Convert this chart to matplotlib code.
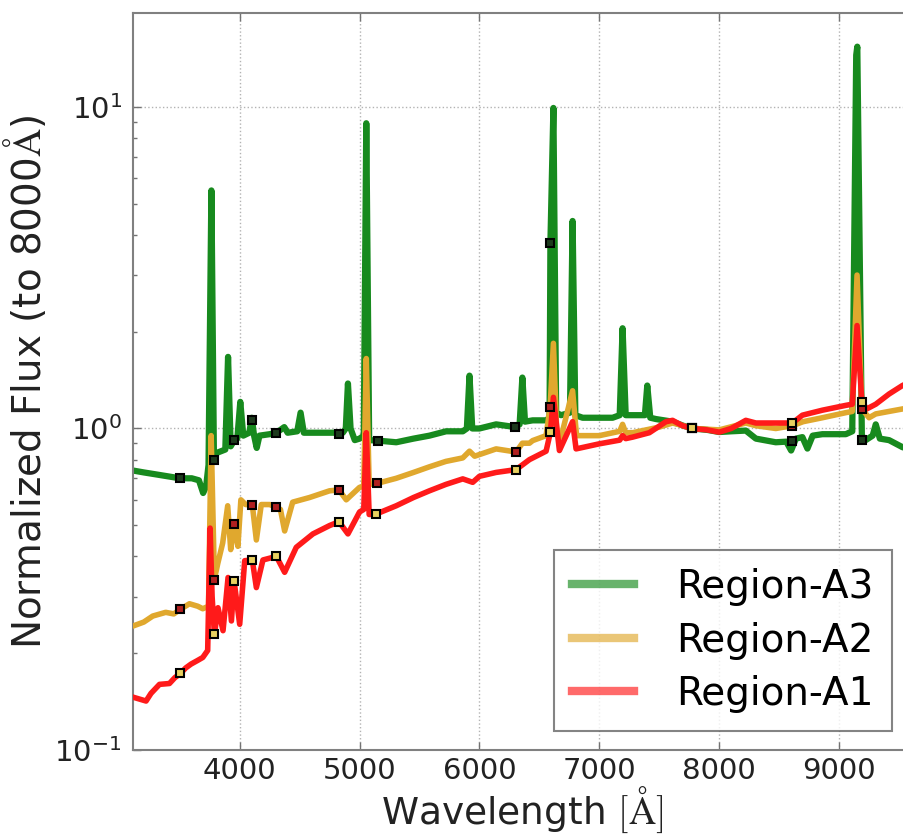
import matplotlib
matplotlib.use("Agg")
import matplotlib.pyplot as plt
from matplotlib.lines import Line2D
from matplotlib.ticker import LogLocator, FixedLocator, NullLocator

plt.rcParams['font.family'] = ['DejaVu Sans']
plt.rcParams['mathtext.fontset'] = 'cm'

# --- spectra (wavelength [A], normalized flux) ---
wave_a3 = [3110, 3200, 3300, 3400, 3500, 3600, 3660, 3695, 3720, 3740, 3764, 3785,
           3810, 3880, 3903, 3925, 3955, 3980, 4005, 4030, 4080, 4101, 4120, 4142,
           4165, 4250, 4306, 4340, 4372, 4400, 4480, 4508, 4535, 4650, 4750, 4860,
           4885, 4903, 4925, 4960, 5000, 5035, 5056, 5080, 5150, 5306, 5450, 5583,
           5722, 5861, 5895, 5917, 5940, 6000, 6139, 6300, 6335, 6358, 6380, 6444,
           6556, 6585, 6592, 6617, 6640, 6681, 6755, 6777, 6800, 6861, 7000, 7111,
           7170, 7194, 7220, 7278, 7380, 7400, 7425, 7472, 7611, 7700, 7775, 7900,
           8000, 8100, 8222, 8306, 8472, 8560, 8600, 8640, 8694, 8736, 8780, 8861,
           9056, 9110, 9143, 9152, 9190, 9222, 9280, 9306, 9340, 9417, 9528, 9600]
flux_a3 = [0.74, 0.73, 0.72, 0.71, 0.70, 0.70, 0.69, 0.63, 0.66, 0.77, 5.5, 0.82,
           0.84, 0.86, 1.67, 0.88, 0.92, 0.93, 1.21, 0.95, 0.97, 1.08, 0.95, 0.87,
           0.95, 0.96, 0.97, 0.99, 1.01, 0.97, 0.98, 1.12, 0.97, 0.97, 0.97, 0.97,
           1.0, 1.38, 1.0, 0.92, 0.93, 0.95, 8.9, 0.92, 0.917, 0.906, 0.93, 0.95,
           0.98, 0.98, 1.0, 1.46, 1.0, 1.0, 1.03, 1.01, 1.03, 1.44, 1.05, 1.06,
           1.06, 1.08, 3.78, 9.93, 1.12, 1.10, 1.12, 4.42, 1.10, 1.08, 1.08, 1.08,
           1.1, 2.05, 1.1, 1.10, 1.1, 1.36, 1.08, 1.07, 1.05, 1.02, 1.0, 0.99,
           0.975, 0.98, 0.985, 0.93, 0.906, 0.91, 0.854, 0.93, 0.94, 0.866, 0.95, 0.96,
           0.96, 0.98, 14.5, 15.4, 0.95, 0.92, 0.95, 1.03, 0.93, 0.92, 0.875, 0.86]

wave_a2 = [3110, 3200, 3275, 3383, 3450, 3505, 3581, 3650, 3692, 3740, 3762, 3789,
           3817, 3858, 3900, 3925, 3955, 3985, 4010, 4050, 4105, 4139, 4180, 4250,
           4302, 4340, 4375, 4442, 4583, 4750, 4828, 4889, 5000, 5035, 5056, 5080,
           5147, 5306, 5450, 5583, 5720, 5861, 5917, 5960, 6139, 6306, 6358, 6417,
           6444, 6556, 6590, 6617, 6645, 6681, 6777, 6810, 7000, 7170, 7194, 7220,
           7278, 7500, 7611, 7700, 7775, 8000, 8222, 8306, 8472, 8611, 8700, 8861,
           9056, 9110, 9150, 9190, 9250, 9306, 9417, 9528, 9600]
flux_a2 = [0.243, 0.250, 0.261, 0.268, 0.265, 0.274, 0.285, 0.28, 0.275, 0.28, 0.95, 0.34,
           0.38, 0.44, 0.575, 0.42, 0.505, 0.43, 0.60, 0.58, 0.58, 0.45, 0.58, 0.58,
           0.57, 0.56, 0.48, 0.59, 0.61, 0.64, 0.644, 0.60, 0.656, 0.66, 1.65, 0.67,
           0.675, 0.70, 0.73, 0.76, 0.79, 0.81, 0.85, 0.82, 0.864, 0.845, 0.90, 0.90,
           0.917, 0.95, 1.17, 1.84, 0.96, 0.94, 1.31, 0.95, 0.95, 0.98, 1.03, 0.97,
           0.97, 1.01, 1.04, 1.02, 1.0, 0.99, 1.04, 1.02, 1.0, 1.02, 1.05, 1.08,
           1.12, 1.13, 3.0, 1.15, 1.08, 1.11, 1.13, 1.15, 1.16]

wave_a1 = [3110, 3219, 3260, 3331, 3414, 3460, 3506, 3550, 3594, 3650, 3692, 3733,
           3753, 3770, 3789, 3819, 3861, 3903, 3931, 3953, 4000, 4042, 4105, 4139,
           4194, 4306, 4375, 4472, 4611, 4750, 4828, 4903, 5000, 5035, 5056, 5080,
           5139, 5306, 5450, 5583, 5720, 5861, 5944, 6000, 6139, 6306, 6417, 6556,
           6592, 6617, 6667, 6777, 6806, 7000, 7170, 7194, 7220, 7278, 7417, 7556,
           7611, 7694, 7775, 7900, 8000, 8100, 8222, 8306, 8472, 8611, 8694, 8861,
           9056, 9110, 9150, 9190, 9230, 9306, 9417, 9528, 9600]
flux_a1 = [0.146, 0.142, 0.15, 0.16, 0.161, 0.168, 0.173, 0.18, 0.185, 0.19, 0.194, 0.204,
           0.49, 0.30, 0.229, 0.277, 0.235, 0.344, 0.252, 0.336, 0.246, 0.388, 0.39, 0.32,
           0.39, 0.40, 0.357, 0.427, 0.47, 0.499, 0.513, 0.47, 0.55, 0.56, 0.97, 0.54,
           0.542, 0.575, 0.61, 0.64, 0.67, 0.697, 0.68, 0.71, 0.73, 0.745, 0.80, 0.85,
           0.974, 1.25, 0.854, 1.05, 0.864, 0.896, 0.92, 0.95, 0.93, 0.94, 0.97, 1.05,
           1.06, 1.02, 1.0, 0.99, 0.974, 1.0, 1.06, 1.04, 1.04, 1.04, 1.10, 1.14,
           1.18, 1.19, 2.09, 1.21, 1.15, 1.19, 1.28, 1.36, 1.40]

# --- square markers (continuum windows) ---
mark_wave_a3 = [3500, 3786, 3956, 4103, 4306, 4830, 5150, 6300, 6592, 7775, 8611, 9194]
mark_flux_a3 = [0.70, 0.80, 0.92, 1.06, 0.97, 0.958, 0.917, 1.01, 3.78, 1.0, 0.917, 0.92]
mark_wave_a2 = [3505, 3789, 3955, 4105, 4302, 4828, 5147, 6306, 6588, 7775, 8611, 9194]
mark_flux_a2 = [0.274, 0.338, 0.505, 0.58, 0.57, 0.644, 0.675, 0.845, 1.17, 1.0, 1.02, 1.15]
mark_wave_a1 = [3506, 3789, 3953, 4105, 4306, 4828, 5139, 6306, 6592, 7775, 8611, 9194]
mark_flux_a1 = [0.173, 0.229, 0.336, 0.39, 0.40, 0.513, 0.542, 0.745, 0.974, 1.0, 1.04, 1.21]

labels = ['Region-A3', 'Region-A2', 'Region-A1']
col_a3, col_a2, col_a1 = '#178a1e', '#e0a82e', '#ff1a1a'

fig = plt.figure(figsize=(9.04, 8.36), dpi=100)
ax = fig.add_axes([133 / 904, 86 / 836, 778 / 904, 737 / 836])

ax.plot(wave_a3, flux_a3, color=col_a3, lw=4.5, solid_joinstyle='round', zorder=2)
ax.plot(wave_a2, flux_a2, color=col_a2, lw=4, solid_joinstyle='round', zorder=3)
ax.plot(wave_a1, flux_a1, color=col_a1, lw=4, solid_joinstyle='round', zorder=4)

ax.plot(mark_wave_a3, mark_flux_a3, 's', ms=6, mfc='#1d3a1d', mec='k', mew=1.5, zorder=6)
ax.plot(mark_wave_a2, mark_flux_a2, 's', ms=6, mfc='#b02020', mec='k', mew=1.5, zorder=6)
ax.plot(mark_wave_a1, mark_flux_a1, 's', ms=6, mfc='#e8d060', mec='k', mew=1.5, zorder=6)

ax.set_yscale('log')
ax.set_xlim(3110, 9600)
ax.set_ylim(0.1, 19.6)
ax.xaxis.set_major_locator(FixedLocator([4000, 5000, 6000, 7000, 8000, 9000]))
ax.xaxis.set_minor_locator(NullLocator())
ax.yaxis.set_major_locator(LogLocator(base=10))
ax.yaxis.set_minor_locator(LogLocator(base=10, subs=range(2, 10)))

ax.grid(True, which='major', ls=':', color='0.7', lw=1)
ax.tick_params(which='both', direction='in', top=True, right=True, colors='0.45',
               labelcolor='#222222', labelsize=21)
ax.tick_params(which='major', length=6, width=1)
ax.tick_params(axis='x', which='major', pad=5)
ax.tick_params(axis='y', which='major', pad=8)
ax.tick_params(which='minor', length=3, width=1)
for sp in ax.spines.values():
    sp.set_color('0.5')
    sp.set_linewidth(1.5)

ax.set_xlabel(r'Wavelength $[\mathrm{\AA}]$', fontsize=27, color='#222222', labelpad=0)
ax.set_ylabel(r'Normalized Flux (to 8000$\mathrm{\AA}$)', fontsize=28, color='#222222',
              labelpad=4)

handles = [Line2D([], [], color=c, lw=6, alpha=0.65) for c in (col_a3, col_a2, col_a1)]
leg = ax.legend(handles, labels, loc='lower right', fontsize=28, frameon=True,
                fancybox=False, handlelength=1.6, handletextpad=1.1,
                labelspacing=0.4, borderpad=0.45, borderaxespad=0.5)
leg.get_frame().set_edgecolor('0.4')
leg.get_frame().set_linewidth(1.5)

fig.savefig('out.png', dpi=100)
